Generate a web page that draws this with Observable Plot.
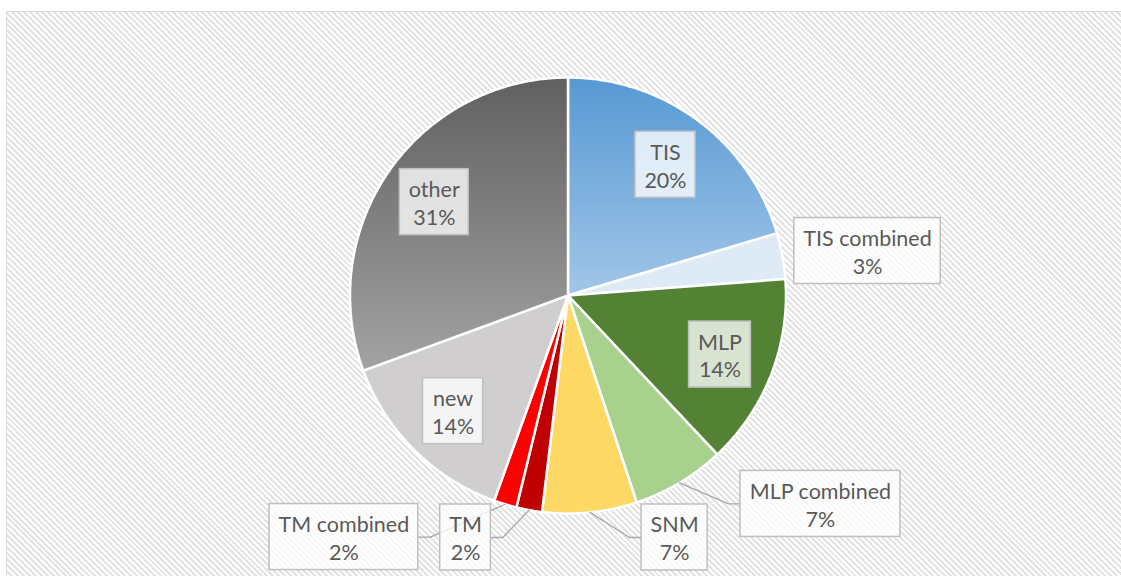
<!DOCTYPE html>
<html><head><meta charset="utf-8">
<script src="https://cdn.jsdelivr.net/npm/d3@7"></script>
<script src="https://cdn.jsdelivr.net/npm/@observablehq/plot@0.6"></script>
<style>
html,body{margin:0;padding:0;background:#fff;}
#wrap{position:relative;width:1121px;height:576px;overflow:hidden;}
#frame{position:absolute;left:6px;top:11px;width:1200px;height:700px;border:1.5px solid #D9D9D9;
  background:repeating-linear-gradient(45deg,#ffffff 0px,#ffffff 2.1px,#e3e3e3 2.1px,#e3e3e3 4.2px);}
#chart{position:absolute;left:0;top:0;}
</style></head><body>
<div id="wrap"><div id="frame"></div><div id="chart"></div></div>
<script>
// ---- data ----
const categories = ["TIS","TIS combined","MLP","MLP combined","SNM","TM","TM combined","new","other"];
const values = [20.4, 3.4, 14.2, 6.9, 7.0, 1.9, 1.7, 13.9, 30.6];
const sliceColors = ["url(#gTIS)","#DEEBF7","#548235","#A9D18E","#FFD966","#C00000","#FF0000","#D0CECE","url(#gOther)"];
const insideLabels = ["TIS","MLP","new","other"];
// label-box layout: centres of the outside labels, in pie radii from the pie centre (x right, y up)
const outsidePlacement = {
  "TIS combined": [1.374, 0.204],
  "MLP combined": [1.158, -0.956],
  "SNM": [0.489, -1.110],
  "TM": [-0.470, -1.110],
  "TM combined": [-1.028, -1.108]
};

// ---- layout ----
const W = 1121, H = 576, cx = 567.5, cy = 295, R = 218;
const fontSize = 21.5, font = `${fontSize}px Lato`;
const textColor = "#595959";

const total = d3.sum(values);
const arcs = d3.pie().sort(null).value(d => d)(values);
const pt = (a, rho) => ({x: rho * Math.sin(a), y: rho * Math.cos(a)});

// slice polygons
const slices = categories.map((name, i) => {
  const {startAngle: a0, endAngle: a1} = arcs[i];
  const n = Math.max(2, Math.ceil((a1 - a0) / (Math.PI / 360)));
  const pts = [{name, ...pt(0, 0)}];
  for (let k = 0; k <= n; k++) pts.push({name, ...pt(a0 + (a1 - a0) * k / n, 1)});
  pts.push({name, ...pt(0, 0)});
  return pts;
});

// text measuring
const ctx = document.createElement("canvas").getContext("2d");
ctx.font = font;
const measure = s => ctx.measureText(s).width;

const labels = categories.map((name, i) => {
  const pct = Math.round(values[i] / total * 100) + "%";
  const mid = (arcs[i].startAngle + arcs[i].endAngle) / 2;
  let c;
  const inside = insideLabels.includes(name);
  if (inside) c = pt(mid, 0.748);
  else c = {x: outsidePlacement[name][0], y: outsidePlacement[name][1]};
  const wpx = Math.max(measure(name), measure(pct)) + 18;
  const hpx = 66;
  const hw = wpx / 2 / R, hh = hpx / 2 / R;
  return {name, text: name + "\n" + pct, inside, mid, x: c.x, y: c.y,
    x1: c.x - hw, x2: c.x + hw, y1: c.y - hh, y2: c.y + hh};
});

// leader lines for outside labels far from their slice
const leaders = [];
labels.filter(d => !d.inside).forEach(d => {
  const a = pt(d.mid, 1.0);
  const right = d.x > a.x;
  const ex = right ? d.x1 : d.x2;
  const gap = Math.abs(ex - a.x) * R;
  if (gap < 20) return;
  const elbow = ex + (right ? -12 : 12) / R;
  leaders.push({name: d.name, x: a.x, y: a.y});
  leaders.push({name: d.name, x: elbow, y: d.y});
  leaders.push({name: d.name, x: ex, y: d.y});
});

const marks = [];
slices.forEach((pts, i) => {
  marks.push(Plot.line(pts, {x: "x", y: "y", fill: sliceColors[i], stroke: "white",
    strokeWidth: 2.5, strokeLinejoin: "miter"}));
});
marks.push(Plot.line(leaders, {x: "x", y: "y", z: "name", stroke: "#A6A6A6", strokeWidth: 1.3}));
marks.push(Plot.rect(labels, {x1: "x1", x2: "x2", y1: "y1", y2: "y2", fill: "white",
  fillOpacity: 0.78, stroke: "#BFBFBF", strokeWidth: 1.5}));
marks.push(Plot.text(labels, {x: "x", y: "y", text: "text", fontSize, fontFamily: "Lato",
  fill: textColor, lineHeight: 1.3, lineAnchor: "middle", textAnchor: "middle"}));

const svg = Plot.plot({
  width: W, height: H, margin: 0,
  x: {domain: [-1, 1], range: [cx - R, cx + R], axis: null},
  y: {domain: [-1, 1], range: [cy + R, cy - R], axis: null},
  style: {background: "transparent", overflow: "visible"},
  marks
});
svg.insertAdjacentHTML("afterbegin", `<defs>
<linearGradient id="gTIS" x1="0" y1="0" x2="0" y2="1">
 <stop offset="0" stop-color="#5799D4"/><stop offset="1" stop-color="#A2C6E8"/></linearGradient>
<linearGradient id="gOther" x1="0" y1="0" x2="0" y2="1">
 <stop offset="0" stop-color="#606060"/><stop offset="1" stop-color="#A3A3A3"/></linearGradient>
</defs>`);
document.getElementById("chart").appendChild(svg);
</script>
</body></html>
